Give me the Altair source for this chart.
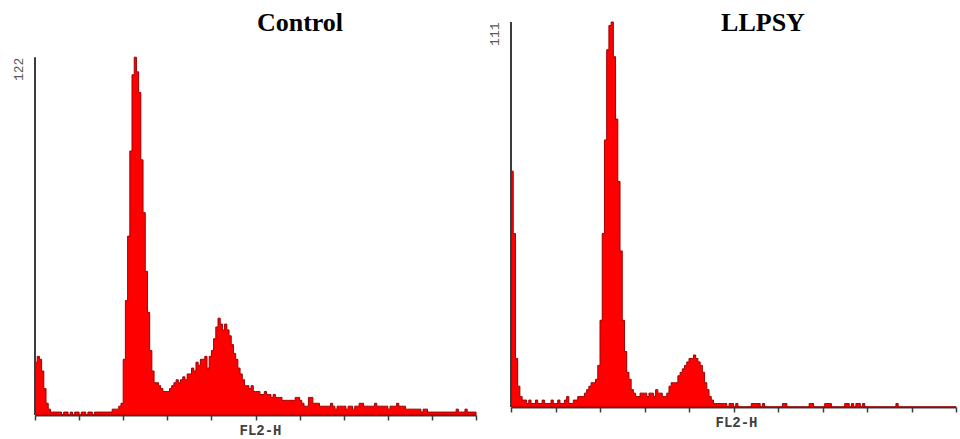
import altair as alt
import pandas as pd

# ---- text ----
panel_titles = ["Control", "LLPSY"]
x_axis_title = "FL2-H"
y_top_labels = [122, 111]          # the single label shown at the top of each y axis

# ---- binning (FL2-H channels) ----
bin_width = 5
channel_ticks = [0, 100, 200, 300, 400, 500, 600, 700, 800, 900, 1000]

# ---- histogram counts (200 bins of 5 channels each) ----
control_counts = [
    18, 20, 19, 15, 9, 4, 2, 1, 1, 1,
    1, 1, 0, 1, 1, 0, 1, 0, 1, 1,
    0, 1, 1, 0, 1, 1, 0, 1, 1, 1,
    1, 1, 1, 1, 1, 2, 2, 2, 3, 4,
    19, 39, 61, 90, 116, 122, 117, 110, 87, 69,
    49, 35, 22, 15, 11, 11, 10, 9, 8, 8,
    8, 9, 10, 11, 12, 11, 12, 13, 12, 14,
    14, 16, 15, 18, 17, 19, 19, 20, 16, 20,
    22, 26, 30, 33, 31, 29, 31, 29, 27, 24,
    21, 19, 16, 14, 12, 10, 10, 9, 10, 8,
    8, 8, 7, 7, 8, 7, 7, 6, 7, 6,
    6, 6, 5, 5, 5, 5, 5, 5, 6, 6,
    5, 4, 3, 3, 6, 6, 4, 4, 4, 3,
    3, 3, 3, 3, 4, 3, 2, 3, 3, 3,
    3, 2, 3, 3, 2, 3, 3, 4, 4, 3,
    3, 3, 3, 3, 4, 3, 3, 3, 3, 3,
    2, 3, 3, 3, 4, 3, 3, 3, 2, 2,
    2, 2, 2, 2, 2, 1, 2, 2, 1, 1,
    1, 1, 1, 1, 1, 1, 1, 1, 1, 1,
    1, 2, 1, 1, 1, 2, 1, 1, 1, 1,
]

llpsy_counts = [
    68, 50, 14, 6, 3, 2, 2, 1, 2, 1,
    1, 2, 1, 1, 2, 1, 1, 1, 2, 1,
    1, 2, 1, 1, 2, 3, 1, 1, 2, 2,
    3, 3, 3, 4, 5, 6, 7, 7, 8, 12,
    25, 50, 77, 103, 110, 111, 101, 83, 65, 45,
    25, 16, 10, 8, 5, 4, 3, 3, 4, 4,
    4, 3, 4, 4, 3, 5, 4, 4, 3, 3,
    4, 6, 7, 7, 7, 9, 10, 11, 12, 13,
    14, 14, 15, 14, 13, 12, 10, 7, 5, 3,
    2, 1, 1, 1, 1, 1, 1, 0, 1, 1,
    0, 1, 0, 0, 0, 0, 0, 0, 1, 1,
    1, 1, 0, 1, 0, 0, 0, 0, 0, 0,
    0, 0, 1, 1, 0, 0, 0, 0, 0, 0,
    0, 0, 0, 0, 1, 1, 0, 0, 0, 0,
    0, 1, 1, 1, 0, 0, 0, 0, 0, 0,
    1, 1, 0, 1, 0, 1, 1, 0, 1, 0,
    0, 0, 0, 0, 0, 0, 0, 0, 0, 0,
    0, 0, 0, 1, 0, 0, 0, 0, 0, 0,
    0, 0, 0, 0, 0, 0, 0, 0, 0, 0,
    0, 0, 0, 0, 0, 0, 0, 0, 0, 0,
]

AXIS_COLOR = "#3c3c3c"


def hist_frame(counts):
    channels = [i * bin_width for i in range(len(counts))] + [len(counts) * bin_width]
    values = list(counts) + [counts[-1]]
    return pd.DataFrame({"channel": channels, "count": values})


def panel(counts, title, top_label, y_max, width, height, title_x):
    x_enc = alt.X(
        "channel:Q",
        scale=alt.Scale(domain=[0, 1000], nice=False, zero=False),
        axis=alt.Axis(
            values=channel_ticks, labels=False, ticks=True, tickSize=5,
            tickWidth=1.5, tickColor=AXIS_COLOR, domainColor=AXIS_COLOR,
            domainWidth=2, grid=False, title=x_axis_title,
            titleFont="Liberation Mono", titleFontSize=14, titleFontWeight="bold",
            titleColor="#404040", titlePadding=3, titleX=225,
        ),
    )
    y_axis = alt.Axis(
        values=[top_label], domain=False, ticks=False, grid=False, title=None,
        labelAngle=270, labelAlign="right", labelBaseline="bottom",
        labelPadding=10, labelFont="Liberation Mono", labelFontSize=13,
        labelColor="#5a5a5a", labelFlush=False,
    )
    y_scale = alt.Scale(domain=[0, y_max], nice=False)

    area = alt.Chart(hist_frame(counts)).mark_area(
        interpolate="step-after", color="#ff0000", stroke="#a00000", strokeWidth=1
    ).encode(x=x_enc, y=alt.Y("count:Q", scale=y_scale, axis=y_axis))

    axis_line = alt.Chart(
        pd.DataFrame({"channel": [0], "count": [0], "top": [top_label]})
    ).mark_rule(color=AXIS_COLOR, strokeWidth=2).encode(
        x=x_enc, y=alt.Y("count:Q", scale=y_scale, axis=y_axis), y2="top:Q"
    )

    head = alt.Chart(pd.DataFrame({"t": [title]})).mark_text(
        font="Liberation Serif", fontSize=26, fontWeight="bold", color="black",
        align="center", baseline="alphabetic",
    ).encode(x=alt.value(title_x), y=alt.value(9), text="t:N")

    return alt.layer(area, axis_line, head).properties(width=width, height=height)


left = panel(control_counts, panel_titles[0], y_top_labels[0], 134, 441, 393, 265)
right = panel(llpsy_counts, panel_titles[1], y_top_labels[1], 111, 445, 385, 252)

chart = alt.hconcat(left, right, spacing=10).properties(
    padding={"left": 12, "top": 10, "right": 0, "bottom": 0},
    background="white",
).configure_view(stroke=None)

chart.save("out.html", embed_options={"renderer": "svg", "actions": False})
